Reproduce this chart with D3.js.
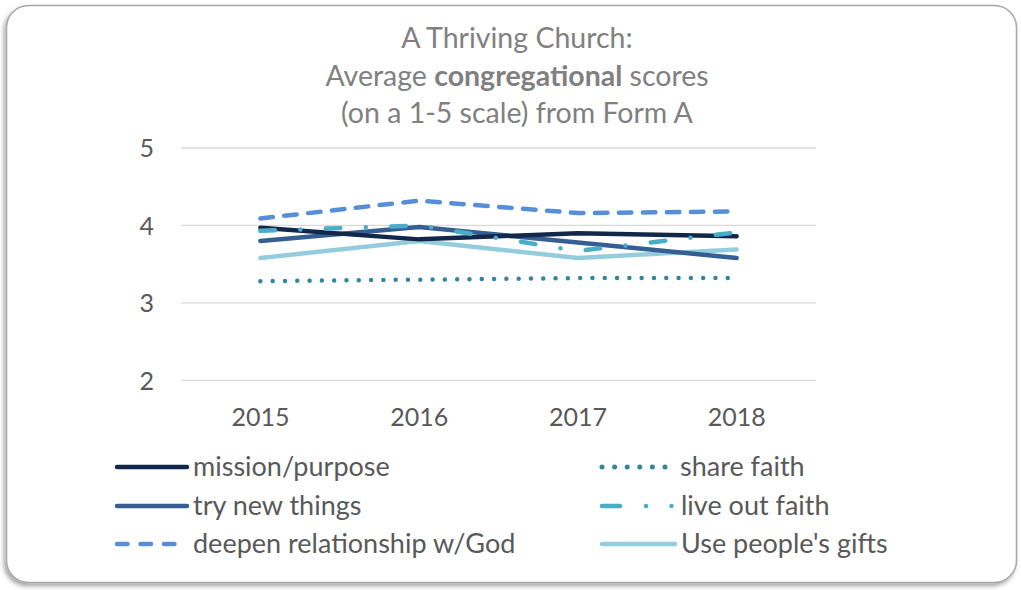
<!DOCTYPE html>
<html><head><meta charset="utf-8">
<script src="https://cdn.jsdelivr.net/npm/d3@7"></script>
<style>
html,body{margin:0;padding:0;background:#fff;}
svg{display:block;font-family:Lato,"Open Sans",sans-serif;}
</style></head>
<body><svg id="c" width="1021" height="590"></svg>
<script>
const years = ["2015","2016","2017","2018"];
const yTicks = [2,3,4,5];
const seriesNames = ["mission/purpose","try new things","deepen relationship w/God","share faith","live out faith","Use people's gifts"];
const missionPurpose = [3.97,3.82,3.90,3.86];
const tryNewThings = [3.80,3.98,3.78,3.58];
const deepenRelationship = [4.09,4.32,4.16,4.18];
const shareFaith = [3.28,3.30,3.32,3.32];
const liveOutFaith = [3.93,4.00,3.67,3.91];
const useGifts = [3.58,3.80,3.58,3.69];

const values = [missionPurpose,tryNewThings,deepenRelationship,shareFaith,liveOutFaith,useGifts];
const styles = [
  {color:"#11284a", dash:null, leg:null},
  {color:"#355f92", dash:null, leg:null},
  {color:"#568fd7", dash:"12.5 11.5", leg:"10.5 13"},
  {color:"#31869d", dash:"0 12.3", leg:"0 12.6"},
  {color:"#4aadc7", dash:"14.5 25.5 0 25.5", leg:"18 26 0 25.5 0 100"},
  {color:"#93cddd", dash:null, leg:null}
];

const svg = d3.select("#c");
const defs = svg.append("defs");
const f = defs.append("filter").attr("id","sh").attr("x","-5%").attr("y","-5%").attr("width","110%").attr("height","110%");
f.append("feDropShadow").attr("dx",-2).attr("dy",3).attr("stdDeviation",2).attr("flood-color","#000").attr("flood-opacity",0.35);

svg.append("rect").attr("x",6.5).attr("y",5.5).attr("width",1010).attr("height",577).attr("rx",22)
  .attr("fill","#fff").attr("stroke","#a6a6a6").attr("stroke-width",1.5).attr("filter","url(#sh)");

// title
const TX = 517;
const title = svg.append("text").attr("text-anchor","middle").attr("fill","#808080").style("font-size","28.5px");
title.append("tspan").attr("x",TX).attr("y",48).text("A Thriving Church:");
const t2 = title.append("tspan").attr("x",TX).attr("y",85.5);
t2.append("tspan").text("Average ");
t2.append("tspan").attr("font-weight","bold").text("congregational");
t2.append("tspan").text(" scores");
title.append("tspan").attr("x",TX).attr("y",123).text("(on a 1-5 scale) from Form A");

const x = d3.scaleBand().domain(years).range([181,816]).paddingInner(0).paddingOuter(0);
const y = d3.scaleLinear().domain([2,5]).range([380.3,148]);
const cx = d => x(d) + x.bandwidth()/2;

// gridlines
svg.append("g").selectAll("line").data(yTicks).join("line")
  .attr("x1",181).attr("x2",816).attr("y1",d=>y(d)).attr("y2",d=>y(d))
  .attr("stroke","#d9d9d9").attr("stroke-width",1.3);

const yAxis = svg.append("g").attr("transform","translate(154,0)")
  .call(d3.axisLeft(y).tickValues(yTicks).tickFormat(d3.format("d")).tickSize(0).tickPadding(0));
yAxis.select(".domain").remove();
yAxis.selectAll("text").attr("fill","#595959").style("font-size","25px").style("font-family","Lato,'Open Sans',sans-serif").attr("dy","0.35em");

const xAxis = svg.append("g").attr("transform","translate(0,417)")
  .call(d3.axisBottom(x).tickSize(0).tickPadding(0));
xAxis.select(".domain").remove();
xAxis.selectAll("text").attr("fill","#595959").style("font-size","25px").style("font-family","Lato,'Open Sans',sans-serif").attr("dy","0.35em");

const line = d3.line().x((d,i)=>cx(years[i])).y(d=>y(d));
const order = [5,3,1,0,4,2];
order.forEach(k=>{
  svg.append("path").datum(values[k]).attr("d",line).attr("fill","none")
    .attr("stroke",styles[k].color).attr("stroke-width",4.5)
    .attr("stroke-linecap","round").attr("stroke-linejoin","round")
    .attr("stroke-dasharray",styles[k].dash);
});

// legend
const legPos = [
  {x:117,y:467},{x:117,y:506},{x:117,y:544},
  {x:602,y:467},{x:602,y:506},{x:602,y:544}
];
const legLen = [70,70,64,68,70,73];
const legText = [193,193,193,680,681,681];
seriesNames.forEach((n,k)=>{
  const p = legPos[k];
  svg.append("line").attr("x1",p.x).attr("x2",p.x+legLen[k]).attr("y1",p.y).attr("y2",p.y)
    .attr("stroke",styles[k].color).attr("stroke-width",k==3?5:4.5).attr("stroke-linecap","round")
    .attr("stroke-dasharray",styles[k].leg);
  svg.append("text").attr("x",legText[k]).attr("y",p.y).attr("dy","0.35em")
    .attr("fill","#595959").style("font-size","27px").text(n);
});
</script></body></html>
